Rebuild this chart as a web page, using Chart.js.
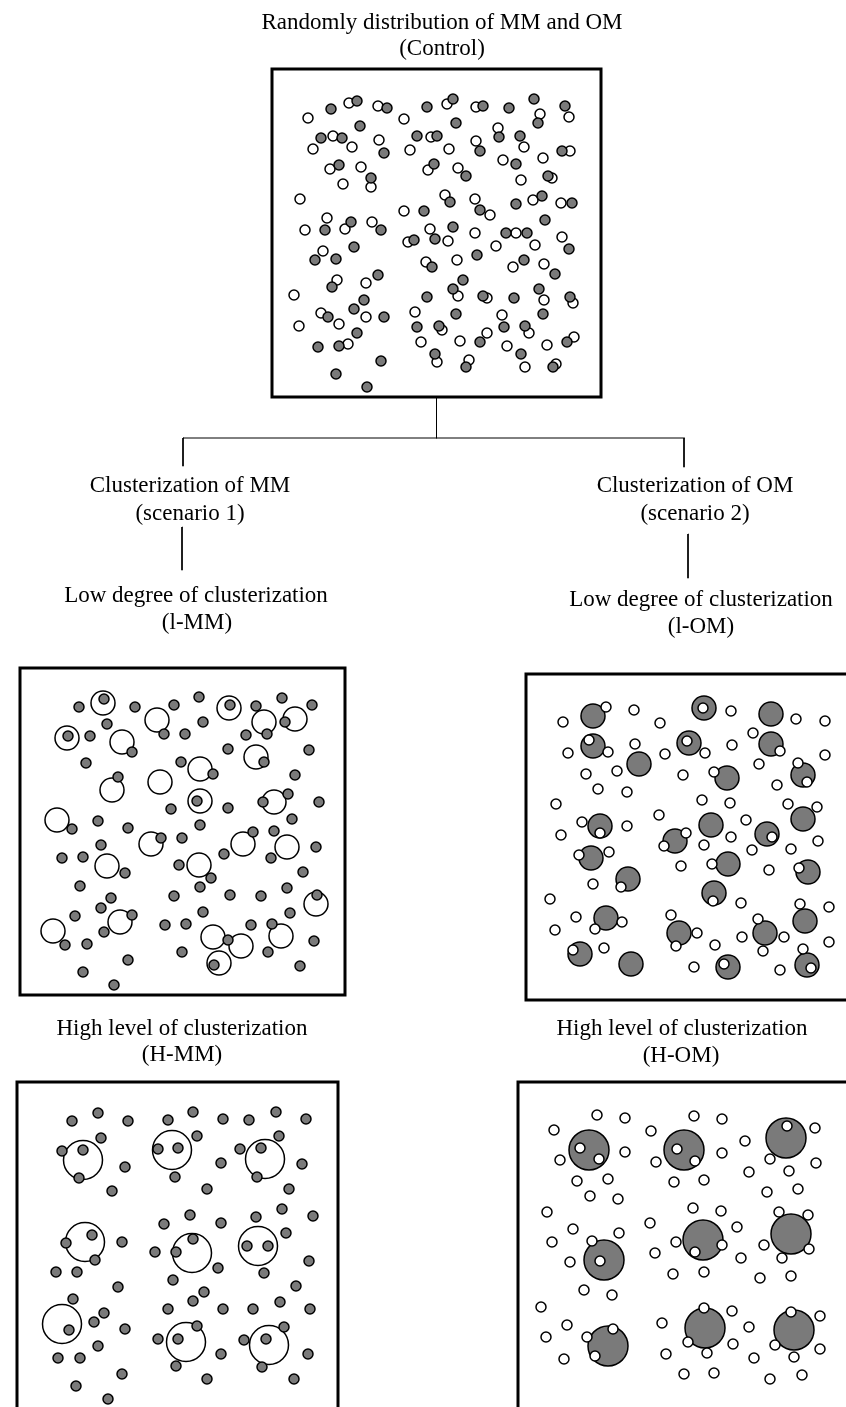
<!DOCTYPE html>
<html>
<head>
<meta charset="utf-8">
<script src="https://cdn.jsdelivr.net/npm/chart.js@4.4.0/dist/chart.umd.min.js"></script>
<style>
  body { margin: 0; background: #fff; }
  #wrap { position: relative; width: 846px; height: 1407px; overflow: hidden; }
  #diagram { position: absolute; left: 0; top: 0; }
  .cap { position: absolute; transform: translate(-50%, -50%); white-space: nowrap;
         font-family: "Liberation Serif", "Times New Roman", serif; font-size: 23px; line-height: 1; color: #000; }
</style>
</head>
<body>
<div id="wrap">
  <canvas id="diagram" width="846" height="1407"></canvas>
</div>
<script>
// point positions, page pixels [x, y]

// control - random mix
var controlWhite = [[308,118],[349,103],[378,106],[404,119],[333,136],[313,149],[352,147],[379,140],[410,150],[431,137],
  [330,169],[361,167],[371,187],[343,184],[428,170],[300,199],[327,218],[404,211],[305,230],[345,229],[372,222],[430,229],
  [408,242],[323,251],[426,262],[337,280],[366,283],[294,295],[321,313],[366,317],[339,324],[299,326],[415,312],[348,344],
  [421,342],[447,104],[476,107],[540,114],[569,117],[449,149],[476,141],[498,128],[524,147],[503,160],[543,158],[570,151],
  [458,168],[521,180],[552,178],[445,195],[475,199],[490,215],[533,200],[561,203],[448,241],[475,233],[516,233],[496,246],
  [535,245],[562,237],[457,260],[513,267],[544,264],[458,296],[487,298],[544,300],[573,303],[502,315],[442,330],[529,333],
  [487,333],[460,341],[507,346],[547,345],[574,337],[437,362],[469,360],[525,367],[556,364]];
var controlGray = [[331,109],[357,101],[387,108],[427,107],[360,126],[321,138],[342,138],[384,153],[417,136],[339,165],
  [371,178],[424,211],[325,230],[351,222],[381,230],[414,240],[315,260],[336,259],[354,247],[432,267],[332,287],[378,275],
  [427,297],[328,317],[364,300],[354,309],[384,317],[417,327],[357,333],[318,347],[339,346],[381,361],[336,374],[367,387],
  [453,99],[483,106],[509,108],[534,99],[538,123],[565,106],[456,123],[437,136],[480,151],[499,137],[520,136],[516,164],
  [562,151],[434,164],[466,176],[548,176],[450,202],[480,210],[516,204],[542,196],[572,203],[545,220],[435,239],[453,227],
  [506,233],[527,233],[569,249],[477,255],[524,260],[555,274],[463,280],[453,289],[483,296],[514,298],[539,289],[570,297],
  [456,314],[543,314],[439,326],[504,327],[525,326],[480,342],[567,342],[435,354],[466,367],[521,354],[553,367]];

// l-MM
var lowMMDots = [[79,707],[104,699],[135,707],[174,705],[107,724],[68,736],[90,736],[132,752],[164,734],[185,734],[86,763],
  [181,762],[118,777],[171,809],[72,829],[98,821],[128,828],[161,838],[182,838],[101,845],[62,858],[83,857],[125,873],[179,865],
  [199,697],[230,705],[256,706],[282,698],[312,705],[203,722],[246,735],[267,734],[285,722],[228,749],[264,762],[309,750],
  [213,774],[295,775],[197,801],[228,808],[263,802],[288,794],[319,802],[292,819],[200,825],[253,832],[274,831],[224,854],
  [271,858],[316,847],[211,878],[303,872],[80,886],[111,898],[101,908],[75,916],[65,945],[132,915],[104,932],[87,944],
  [128,960],[83,972],[114,985],[174,896],[200,887],[230,895],[261,896],[287,888],[317,895],[203,912],[165,925],[186,924],
  [228,940],[214,965],[251,925],[272,924],[290,913],[314,941],[182,952],[268,952],[300,966]];
var lowMMRings = [[103,703],[157,720],[67,738],[122,742],[112,790],[160,782],[57,820],[151,844],[107,866],[229,708],[264,722],
  [295,719],[256,757],[200,769],[200,801],[274,802],[243,844],[287,847],[199,865],[53,931],[120,922],[316,904],[213,937],
  [241,946],[219,963],[281,936]];

// l-OM
var lowOMDots = [[606,707],[563,722],[634,710],[660,723],[589,740],[608,752],[568,753],[635,744],[665,754],[586,774],[617,771],
  [598,789],[627,792],[556,804],[659,815],[582,822],[600,833],[627,826],[561,835],[664,846],[579,855],[609,852],[621,887],
  [593,884],[703,708],[731,711],[796,719],[825,721],[687,741],[705,753],[732,745],[753,733],[780,751],[825,755],[683,775],
  [714,772],[759,764],[777,785],[798,763],[807,782],[702,800],[730,803],[788,804],[817,807],[746,820],[686,833],[704,845],
  [731,837],[772,837],[752,850],[791,849],[818,841],[681,866],[712,864],[769,870],[799,868],[550,899],[576,917],[622,922],
  [595,929],[555,930],[573,950],[604,948],[713,901],[741,903],[671,915],[697,933],[676,946],[715,945],[724,964],[694,967],
  [758,919],[784,937],[763,951],[742,937],[800,904],[829,907],[829,942],[803,949],[811,968],[780,970]];
var lowOMDiscs = [[593,716],[593,746],[639,764],[600,826],[675,841],[591,858],[628,879],[704,708],[771,714],[689,743],[771,744],
  [727,778],[803,775],[803,819],[711,825],[767,834],[728,864],[808,872],[606,918],[580,954],[631,964],[714,893],[679,933],
  [728,967],[765,933],[805,921],[807,965]];

// H-MM
var highMMDots = [[72,1121],[98,1113],[128,1121],[168,1120],[193,1112],[223,1119],[249,1120],[276,1112],[306,1119],[101,1138],
  [62,1151],[83,1150],[79,1178],[125,1167],[112,1191],[158,1149],[178,1148],[175,1177],[197,1136],[221,1163],[207,1189],
  [240,1149],[261,1148],[257,1177],[279,1136],[302,1164],[289,1189],[66,1243],[92,1235],[95,1260],[122,1242],[56,1272],
  [77,1272],[118,1287],[164,1224],[190,1215],[221,1223],[176,1252],[193,1239],[155,1252],[218,1268],[173,1280],[256,1217],
  [282,1209],[313,1216],[286,1233],[247,1246],[268,1246],[264,1273],[309,1261],[296,1286],[73,1299],[69,1330],[104,1313],
  [94,1322],[125,1329],[98,1346],[58,1358],[80,1358],[122,1374],[76,1386],[108,1399],[168,1309],[193,1301],[204,1292],
  [223,1309],[197,1326],[178,1339],[158,1339],[221,1354],[176,1366],[207,1379],[253,1309],[280,1302],[310,1309],[284,1327],
  [266,1339],[244,1340],[308,1354],[262,1367],[294,1379]];
var highMMRings = [[83,1160],[172,1150],[265,1159],[85,1242],[192,1253],[258,1246],[62,1324],[186,1342],[269,1345]];

// H-OM
var highOMDots = [[580,1148],[599,1159],[554,1130],[597,1115],[625,1118],[625,1152],[560,1160],[577,1181],[608,1179],[590,1196],
  [618,1199],[677,1149],[695,1161],[651,1131],[694,1116],[722,1119],[722,1153],[656,1162],[674,1182],[704,1180],[787,1126],
  [745,1141],[815,1128],[770,1159],[816,1163],[749,1172],[789,1171],[767,1192],[798,1189],[547,1212],[573,1229],[619,1233],
  [552,1242],[570,1262],[584,1290],[612,1295],[592,1241],[600,1261],[676,1242],[695,1252],[722,1245],[650,1223],[693,1208],
  [721,1211],[737,1227],[655,1253],[741,1258],[673,1274],[704,1272],[779,1212],[808,1215],[764,1245],[809,1249],[782,1258],
  [760,1278],[791,1276],[541,1307],[567,1325],[546,1337],[564,1359],[613,1329],[587,1337],[595,1356],[662,1323],[666,1354],
  [684,1374],[714,1373],[704,1308],[688,1342],[707,1353],[732,1311],[749,1327],[733,1344],[754,1358],[770,1379],[802,1375],
  [791,1312],[820,1316],[775,1345],[794,1357],[820,1349]];
var highOMDiscs = [[589,1150],[684,1150],[786,1138],[604,1260],[703,1240],[791,1234],[608,1346],[705,1328],[794,1330]];

// ---- layout (frames, tree lines, captions) ----
var frames = [[272,69,601,397],[20,668,345,995],[526,674,852,1000],[17,1082,338,1412],[518,1082,852,1412]];
var treeLines = [
  [[436.5,397],[436.5,438]],
  [[183,438],[684,438]],
  [[183,438],[183,466]],
  [[684,438],[684,467]],
  [[182,527],[182,570]],
  [[688,534],[688,578]]
];
var captions = [
  ['Randomly distribution of MM and OM', 442, 21],
  ['(Control)', 442, 47],
  ['Clusterization of MM', 190, 484],
  ['(scenario 1)', 190, 512],
  ['Clusterization of OM', 695, 484],
  ['(scenario 2)', 695, 512],
  ['Low degree of clusterization', 196, 594],
  ['(l-MM)', 197, 621],
  ['Low degree of clusterization', 701, 598],
  ['(l-OM)', 701, 625],
  ['High level of clusterization', 182, 1027],
  ['(H-MM)', 182, 1053],
  ['High level of clusterization', 682, 1027],
  ['(H-OM)', 681, 1054]
];

var GRAY = '#7a7a7a';

function pts(list) {
  return list.map(function(p) { return {x: p[0], y: p[1]}; });
}
// order: lower number is drawn on top
function dots(list, fill, r, order) {
  return {data: pts(list), showLine: false, pointRadius: r, pointHoverRadius: r,
    pointBackgroundColor: fill, pointBorderColor: '#000', pointBorderWidth: 1.5, order: order, clip: false};
}
function path(list, width, order) {
  return {data: pts(list), showLine: true, borderColor: '#000', borderWidth: width, borderCapStyle: 'square',
    borderJoinStyle: 'miter', pointRadius: 0, tension: 0, fill: false, order: order, clip: false};
}

var datasets = [];
frames.forEach(function(f) {
  datasets.push(path([[f[0],f[1]],[f[2],f[1]],[f[2],f[3]],[f[0],f[3]],[f[0],f[1]]], 3, 5));
});
treeLines.forEach(function(l) { datasets.push(path(l, 1, 5)); });

datasets.push(dots(controlWhite, '#fff', 5, 2));
datasets.push(dots(controlGray, GRAY, 5, 1));
datasets.push(dots(lowMMRings, 'rgba(0,0,0,0)', 12, 3));
datasets.push(dots(lowMMDots, GRAY, 5, 1));
datasets.push(dots(lowOMDiscs, GRAY, 12, 3));
datasets.push(dots(lowOMDots, '#fff', 5, 1));
datasets.push(dots(highMMRings, 'rgba(0,0,0,0)', 19.5, 3));
datasets.push(dots(highMMDots, GRAY, 5, 1));
datasets.push(dots(highOMDiscs, GRAY, 20, 3));
datasets.push(dots(highOMDots, '#fff', 5, 1));

new Chart(document.getElementById('diagram'), {
  type: 'scatter',
  data: {datasets: datasets},
  options: {
    responsive: false,
    animation: false,
    devicePixelRatio: 1,
    events: [],
    // keep the scale edge on the canvas edge, no room added for big markers
    layout: {padding: 0, autoPadding: false},
    plugins: {legend: {display: false}, tooltip: {enabled: false}},
    scales: {
      x: {type: 'linear', min: 0, max: 846, display: false},
      y: {type: 'linear', min: 0, max: 1407, reverse: true, display: false}
    }
  }
});

var wrap = document.getElementById('wrap');
captions.forEach(function(c) {
  var d = document.createElement('div');
  d.className = 'cap';
  d.textContent = c[0];
  d.style.left = c[1] + 'px';
  d.style.top = c[2] + 'px';
  wrap.appendChild(d);
});
</script>
</body>
</html>
